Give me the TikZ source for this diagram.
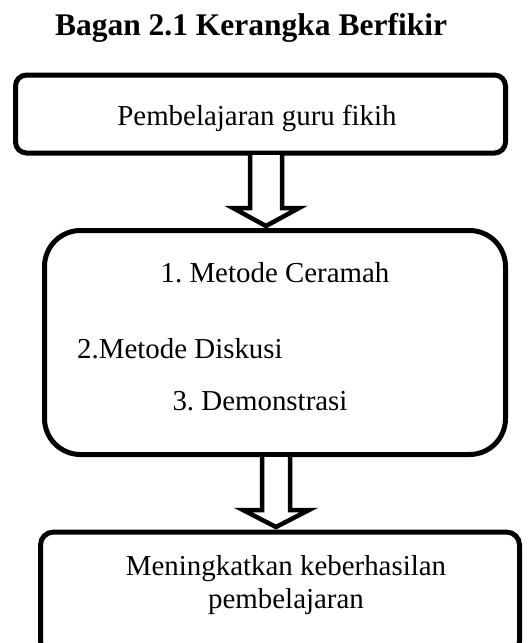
\documentclass[tikz,border=0pt]{standalone}
\usepackage{fontspec}
\setmainfont{Liberation Serif}
\usetikzlibrary{calc}
\frenchspacing
\begin{document}
\begin{tikzpicture}[x=1pt,y=-1pt,
  box/.style={draw=black,line width=5pt,fill=white,inner sep=0pt},
  blockarrow/.style={draw=black,line width=4.5pt,fill=white,line join=miter},
  txt/.style={font=\fontsize{28.9}{33}\selectfont,inner sep=0pt}]
\useasboundingbox (0,0) rectangle (530,643);
% boxes
\node[box,rounded corners=11pt,minimum width=490pt,minimum height=78pt] (b1) at (260.5,114) {};
\node[box,rounded corners=36pt,minimum width=461pt,minimum height=224pt] (b2) at (275,342.5) {};
\node[box,rounded corners=13pt,minimum width=479pt,minimum height=122pt] (b3) at (280,593) {};
% title
\node[font=\fontsize{31.5}{36}\selectfont\bfseries,anchor=base,inner sep=0pt] (title) at (251,35) {Bagan 2.1 Kerangka Berfikir};
% texts
\node[txt,anchor=base] (t1) at (257,125) {Pembelajaran guru fikih};
\node[txt,anchor=base] (t2) at (275,282) {1. Metode Ceramah};
\node[txt,anchor=base west] (t3) at (77,358) {2.Metode Diskusi};
\node[txt,anchor=base] (t4) at (260,410) {3. Demonstrasi};
\node[txt,anchor=base] (t5) at (286,575) {Meningkatkan keberhasilan};
\node[txt,anchor=base] (t6) at (286,608) {pembelajaran};
% block arrows
\draw[blockarrow] (250,155) -- (250,208) -- (233,208) -- (266,226) -- (299,208) -- (282,208) -- (282,155);
\draw[blockarrow] (262,457) -- (262,510) -- (243,510) -- (276,527) -- (309,510) -- (290,510) -- (290,457);
\end{tikzpicture}
\end{document}
